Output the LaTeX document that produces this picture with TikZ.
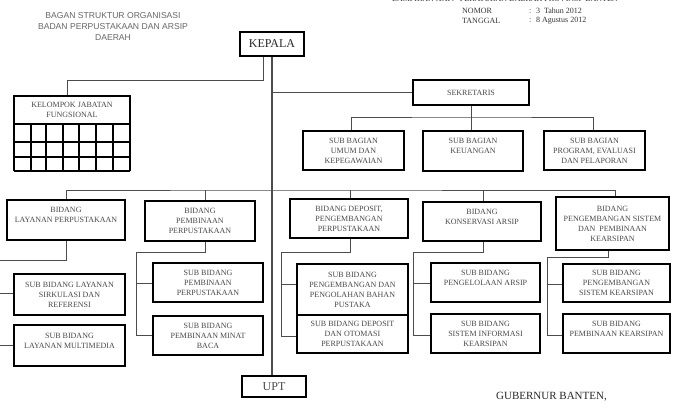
\documentclass[tikz,border=0pt]{standalone}
\usepackage{fontspec}
\setmainfont{Liberation Serif}
\newfontfamily\titlefont{Liberation Sans}
\begin{document}
\begin{tikzpicture}[x=1pt,y=-1pt,
  bx/.style={draw=black, line width=1.6pt, rectangle, inner sep=0pt, align=center,
    font=\fontsize{8}{10}\selectfont, text=black!72},
  cn/.style={draw=black!70, line width=1pt},
  hd/.style={font=\fontsize{8}{10}\selectfont, text=black!80, inner sep=0pt}]
\useasboundingbox (0,0) rectangle (673,410);

% header texts
\node[font=\titlefont\fontsize{8.6}{11}\selectfont, text=black!60, align=center, inner sep=0pt] (title) at (113,26)
  {BAGAN STRUKTUR ORGANISASI\\BADAN PERPUSTAKAAN DAN ARSIP\\DAERAH};
\node[hd] (lamp) at (505,-1) {LAMPIRAN XXIV \ PERATURAN DAERAH PROVINSI \ BANTEN};
\node[hd, anchor=west] (nom) at (462,10.5) {NOMOR};
\node[hd, anchor=west] (nomv) at (529,10.5) {: \ 3 \ Tahun 2012};
\node[hd, anchor=west] (tgl) at (462,20.5) {TANGGAL};
\node[hd, anchor=west] (tglv) at (529,20.5) {: \ 8 Agustus 2012};

% top level
\node[bx, minimum width=64, minimum height=24, font=\fontsize{12}{14}\selectfont, text=black!85] (kep) at (272,44) {KEPALA};
\node[bx, minimum width=116, minimum height=25] (sek) at (471,92.5) {SEKRETARIS};
\node[bx, minimum width=116, minimum height=28] (fung) at (72,110) {KELOMPOK JABATAN\\FUNGSIONAL};

% fungsional grid
\foreach \yy in {142,157,171} \draw[line width=1.4pt] (14,\yy) -- (130,\yy);
\foreach \xx in {14,31,46,63,79,96,113,130} \draw[line width=1.4pt] (\xx,124) -- (\xx,171);

% sub bagian
\node[bx, minimum width=101, minimum height=39] (sb1) at (353.5,150.5) {SUB BAGIAN\\UMUM DAN\\KEPEGAWAIAN};
\node[bx, minimum width=100, minimum height=40] (sb2) at (473,151) {SUB BAGIAN\\KEUANGAN\\\mbox{}};
\node[bx, minimum width=101, minimum height=39] (sb3) at (594.5,150.5) {SUB BAGIAN\\PROGRAM, EVALUASI\\DAN PELAPORAN};

% bidang
\node[bx, minimum width=118, minimum height=40] (b1) at (66,220) {BIDANG\\LAYANAN PERPUSTAKAAN\\\mbox{}};
\node[bx, minimum width=110, minimum height=40] (b2) at (200,221) {BIDANG\\PEMBINAAN\\PERPUSTAKAAN};
\node[bx, minimum width=118, minimum height=39] (b3) at (349,218.5) {BIDANG DEPOSIT,\\PENGEMBANGAN\\PERPUSTAKAAN};
\node[bx, minimum width=118, minimum height=39] (b4) at (482,221.5) {BIDANG\\KONSERVASI ARSIP\\\mbox{}};
\node[bx, minimum width=113, minimum height=53] (b5) at (612.5,223.5) {BIDANG\\PENGEMBANGAN SISTEM\\DAN \ PEMBINAAN\\KEARSIPAN};

% sub bidang
\node[bx, minimum width=111, minimum height=41] (s1a) at (69.5,294.5) {SUB BIDANG LAYANAN\\SIRKULASI DAN\\REFERENSI};
\node[bx, minimum width=111, minimum height=41] (s1b) at (69.5,345.5) {SUB BIDANG\\LAYANAN MULTIMEDIA\\\mbox{}};
\node[bx, minimum width=110, minimum height=39] (s2a) at (208,282.5) {SUB BIDANG\\PEMBINAAN\\PERPUSTAKAAN};
\node[bx, minimum width=110, minimum height=39] (s2b) at (208,335.5) {SUB BIDANG\\PEMBINAAN MINAT\\BACA};
\node[bx, minimum width=111, minimum height=51] (s3a) at (352.5,289.5) {SUB BIDANG\\PENGEMBANGAN DAN\\PENGOLAHAN BAHAN\\PUSTAKA};
\node[bx, minimum width=111, minimum height=38] (s3b) at (352.5,334) {SUB BIDANG DEPOSIT\\DAN OTOMASI\\PERPUSTAKAAN};
\node[bx, minimum width=109, minimum height=39] (s4a) at (485.5,282.5) {SUB BIDANG\\PENGELOLAAN ARSIP\\\mbox{}};
\node[bx, minimum width=109, minimum height=39] (s4b) at (485.5,333.5) {SUB BIDANG\\SISTEM INFORMASI\\KEARSIPAN};
\node[bx, minimum width=107, minimum height=38] (s5a) at (616.5,283) {SUB BIDANG\\PENGEMBANGAN\\SISTEM KEARSIPAN};
\node[bx, minimum width=107, minimum height=39] (s5b) at (616.5,333.5) {SUB BIDANG\\PEMBINAAN KEARSIPAN\\\mbox{}};

\node[bx, minimum width=64, minimum height=21, font=\fontsize{12}{14}\selectfont, line width=1.4pt] (upt) at (274,386.5) {UPT};

\node[font=\fontsize{11}{13}\selectfont, text=black!85, inner sep=0pt] (gub) at (551.5,397) {GUBERNUR BANTEN,};

% bus coordinates
\coordinate (sbus) at (471,117);
\coordinate (bbus) at (272,190);
\coordinate (l1) at (-3,260);
\coordinate (l2) at (136,252);
\coordinate (l3) at (281,252);
\coordinate (l4) at (413,252);
\coordinate (l5) at (547,257);

% connectors
\draw[cn] ([xshift=-9pt]kep.south) -- ++(0,24) -| ([xshift=-5pt]fung.north);
\draw[cn, line width=1.4pt] (kep.south) -- (kep.south |- upt.north);
\draw[cn] (sek.west) -- (sek.west -| kep.south);
\draw[cn] (sek.south) -- (sek.south |- sb2.north);
\draw[cn] ([xshift=-2pt]sb1.north) |- (sbus) -| ([xshift=-1pt]sb3.north);

\draw[cn] (b1.north) |- (bbus) -| ([xshift=3pt]b5.north);
\draw[cn] ([xshift=5pt]b2.north) -- ([xshift=5pt]b2.north |- bbus);
\draw[cn] ([xshift=1pt]b3.north) -- ([xshift=1pt]b3.north |- bbus);
\draw[cn] ([xshift=1pt]b4.north) -- ([xshift=1pt]b4.north |- bbus);

\draw[cn] (b1.south) |- (l1) |- (s1b.west);
\draw[cn] ([yshift=1pt]s1a.west) -- ([yshift=1pt]s1a.west -| l1);
\draw[cn] ([xshift=5pt]b2.south) |- (l2) |- (s2b.west);
\draw[cn] ([yshift=-1pt]s2a.west) -- ([yshift=-1pt]s2a.west -| l2);
\draw[cn] ([xshift=1pt]b3.south) |- (l3) |- ([yshift=-2pt]s3b.west);
\draw[cn] ([yshift=5pt]s3a.west) -- ([yshift=5pt]s3a.west -| l3);
\draw[cn] ([xshift=1pt]b4.south) |- (l4) |- ([yshift=-2pt]s4b.west);
\draw[cn] ([yshift=-1pt]s4a.west) -- ([yshift=-1pt]s4a.west -| l4);
\draw[cn] ([xshift=-4pt]b5.south) |- (l5) |- ([yshift=-2pt]s5b.west);
\draw[cn] ([yshift=-1pt]s5a.west) -- ([yshift=-1pt]s5a.west -| l5);
\end{tikzpicture}
\end{document}
